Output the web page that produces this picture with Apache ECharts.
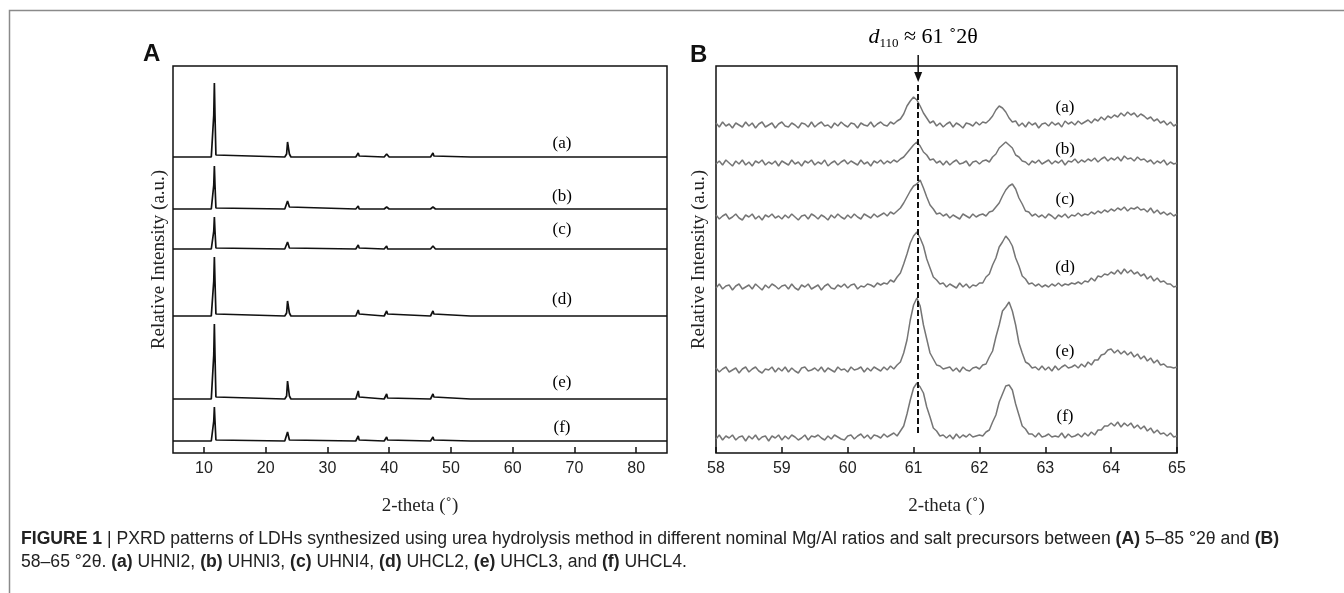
<!DOCTYPE html>
<html><head><meta charset="utf-8">
<script src="https://cdn.jsdelivr.net/npm/echarts@6/dist/echarts.min.js"></script>
<style>html,body{margin:0;padding:0;background:#fff}#c{width:1344px;height:593px}</style>
</head><body><div id="c"></div><script>
// ---------- Panel A : 5–85 °2θ ----------
const sampleNames = ['(a)', '(b)', '(c)', '(d)', '(e)', '(f)'];
const xA = [5,
  11.2, 11.45, 11.6, 11.7, 11.8, 11.95, 12.2,
  23.1, 23.4, 23.55, 23.7, 23.85, 24.1,
  34.6, 34.85, 35.0, 35.15, 35.4,
  39.2, 39.45, 39.6, 39.75, 40.0,
  46.7, 46.95, 47.1, 47.25, 47.5,
  53.2, 53.45, 53.7,
  56.6, 56.85, 57.1,
  60.7, 60.95, 61.2,
  62.1, 62.35, 62.6,
  85];
const intensA_a = [0, 0,2,42,74,42,2,0, 0,3,15,14,3,0, 0,1,4,1,0, 0,1,3,1,0, 0,1,4,1,0, 0,0,0, 0,0,0, 0,0,0, 0,0,0, 0];
const intensA_b = [0, 0,1,24,43,24,1,0, 0,2,8,9,2,0, 0,0,3,0,0, 0,0,2,0,0, 0,0,2,1,0, 0,0,0, 0,0,0, 0,0,0, 0,0,0, 0];
const intensA_c = [0, 0,1,18,32,18,1,0, 0,2,7,6,1,0, 0,1,4,1,0, 0,1,3,0,0, 0,1,3,1,0, 0,0,0, 0,0,0, 0,1,0, 0,0,0, 0];
const intensA_d = [0, 0,2,35,59,35,2,0, 0,3,15,16,3,0, 0,1,6,2,0, 0,1,5,2,0, 0,1,5,2,0, 0,1.5,0, 0,1.5,0, 0,2,0, 0,2,0, 0];
const intensA_e = [0, 0,2,44,75,44,2,0, 0,3,18,17,3,0, 0,1,8,2,0, 0,1,5,1,0, 0,1,5,2,0, 0,1,0, 0,0,0, 0,1,0, 0,1,0, 0];
const intensA_f = [0, 0,1,20,34,20,1,0, 0,2,9,8,1,0, 0,1,5,1,0, 0,1,4,1,0, 0,1,4,1,0, 0,0.5,0, 0,0,0, 0,1,0, 0,0.5,0, 0];
const offsetsA = [296, 244, 204, 137, 54, 12];
const xTicksA = [10, 20, 30, 40, 50, 60, 70, 80];

// ---------- Panel B : 58–65 °2θ (step 0.05) ----------
const xStartB = 58, xStepB = 0.05;
const intensB_a = [
  2,-2,3,-1,1,-3,2,0,-2,3,
  -1,2,-3,1,3,-2,0,2,-3,1,
  3,-1,-2,2,0,-3,2,1,-2,3,
  -2,1,3,-1,0,-3,2,-1,3,0,
  -2,2,1,-3,2,0,-1,3,-2,1,
  3,0,-1,3,1,4,6,11,19,24,
  28,25,19,12,7,2,4,-1,2,-2,
  1,3,-2,2,0,-3,2,1,-1,3,
  0,3,2,5,9,15,19,17,13,7,
  3,4,-1,2,-2,3,0,2,-3,1,
  2,-1,3,0,2,-2,4,1,3,0,
  4,1,3,5,2,6,4,8,5,9,
  7,10,8,12,9,13,10,12,8,11,
  9,6,8,4,6,2,4,0,3,-1,
  1];
const intensB_b = [
  -1,2,-2,3,0,-3,2,-1,3,-2,
  1,-3,2,0,3,-2,1,-1,2,-3,
  2,0,-2,3,-1,1,-3,2,0,3,
  -2,1,-1,3,-3,0,2,-2,1,3,
  -1,2,0,-2,3,-1,1,-3,2,0,
  3,-1,2,0,3,1,4,6,10,14,
  18,21,17,11,8,3,4,0,2,-2,
  2,-2,1,3,-1,0,2,-3,1,2,
  -1,2,3,1,6,9,15,18,21,18,
  15,8,6,2,1,-2,2,0,3,-1,
  1,3,-1,2,0,3,-2,2,1,4,
  0,3,1,4,2,5,1,4,6,2,
  5,3,6,2,7,4,5,2,6,3,
  4,1,3,-1,2,0,3,-2,1,-1,
  0];
const intensB_c = [
  2,-2,1,3,-2,0,3,-1,-3,2,
  0,3,-2,1,-3,2,0,3,-1,1,
  -2,2,-1,3,0,-3,1,2,-2,3,
  1,-2,2,0,-3,2,-1,3,0,-2,
  2,-1,3,0,-2,3,1,-1,3,0,
  2,4,1,5,3,6,9,14,20,26,
  31,33,37,29,20,12,8,3,4,1,
  3,-1,2,0,-2,3,1,-1,3,0,
  2,3,1,5,6,10,14,21,27,31,
  33,28,19,13,6,5,1,3,0,2,
  -1,3,1,-2,2,0,3,-1,2,1,
  4,1,3,2,5,3,6,4,7,5,
  8,6,9,7,10,6,9,8,10,7,
  8,5,9,4,7,3,5,2,4,1,
  3];
const intensB_d = [
  -1,3,-2,1,2,-3,1,3,-2,0,
  2,-2,3,0,-3,2,-1,3,1,-2,
  1,2,-2,3,-1,-3,2,0,3,-2,
  0,2,-3,1,3,-1,-2,2,0,3,
  -1,2,3,-2,1,0,3,2,0,4,
  2,4,3,7,5,10,14,23,33,44,
  51,55,49,41,28,19,10,7,3,4,
  0,3,1,-1,4,0,3,-1,2,1,
  4,4,10,13,22,29,40,45,51,47,
  41,29,21,11,8,3,4,1,3,0,
  2,0,3,1,4,1,3,2,4,3,
  5,3,6,5,9,6,11,10,13,12,
  15,13,17,13,18,14,17,13,15,11,
  13,8,11,6,9,5,6,3,3,0,
  1];
const intensB_e = [
  2,-2,1,3,-2,0,2,-3,1,3,
  -2,1,3,-1,-3,1,0,3,-2,2,
  -1,3,-2,2,-1,-3,2,3,-1,0,
  2,-1,3,-2,2,0,-2,3,0,1,
  -2,3,0,1,3,-2,2,-1,3,1,
  -1,3,0,4,1,5,8,17,30,50,
  65,72,64,45,31,17,11,5,4,1,
  2,3,-1,2,-2,3,0,-1,2,3,
  1,5,6,13,19,33,45,59,63,68,
  59,45,27,17,8,6,2,3,0,4,
  0,3,-1,4,0,3,5,2,3,5,
  2,6,3,8,5,10,10,15,16,20,
  21,17,20,16,19,15,18,13,16,11,
  14,9,12,7,10,5,6,3,3,2,
  3];
const intensB_f = [
  -1,3,-2,2,0,3,-2,1,2,-3,
  2,-1,3,-2,1,2,-3,2,0,3,
  -2,2,-1,3,1,-2,0,3,-2,2,
  1,3,0,-2,2,-1,3,1,-1,-2,
  2,3,-1,2,4,0,3,-1,3,2,
  0,4,1,3,5,2,7,12,24,38,
  50,55,51,45,31,21,10,7,2,3,
  0,3,-1,4,0,3,1,4,1,2,
  3,2,6,8,16,23,36,44,52,53,
  48,34,23,12,9,4,4,1,5,1,
  2,4,1,2,1,5,0,4,1,2,
  4,1,5,2,6,3,8,8,12,12,
  15,12,16,11,15,12,15,10,13,9,
  12,7,10,5,8,4,5,2,5,1,
  2];
const offsetsB = [328, 290, 236, 166, 83, 15];
const xTicksB = [58, 59, 60, 61, 62, 63, 64, 65];
const d110Pos = 61.07;

// ---------- build ----------
const intensA = [intensA_a, intensA_b, intensA_c, intensA_d, intensA_e, intensA_f];
const intensB = [intensB_a, intensB_b, intensB_c, intensB_d, intensB_e, intensB_f];
const labelXA = 68, labelDyA = [13, 12, 19, 16, 16, 13];
const labelXB = 63.3, labelDyB = [17, 13, 17, 19, 18, 21];

const chart = echarts.init(document.getElementById('c'), null, {renderer: 'canvas'});
const serif = '"Liberation Serif", "DejaVu Serif", serif';
const sans = '"Liberation Sans", Arial, sans-serif';

function xAxisCfg(gi, min, max, ticks) {
  return {
    gridIndex: gi, type: 'value', min: min, max: max,
    axisLine: {show: false},
    axisTick: {show: true, inside: true, length: 6, customValues: ticks, lineStyle: {color: '#111', width: 1.5}},
    axisLabel: {show: true, customValues: ticks, fontFamily: sans, fontSize: 16, color: '#222', margin: 8},
    splitLine: {show: false},
    name: '2-theta (˚)', nameLocation: 'middle', nameGap: 44,
    nameTextStyle: {fontFamily: serif, fontSize: 19, color: '#222'}
  };
}
function yAxisCfg(gi, gap) {
  return {
    gridIndex: gi, type: 'value', min: 0, max: 387,
    axisLine: {show: false}, axisTick: {show: false}, axisLabel: {show: false}, splitLine: {show: false},
    name: 'Relative Intensity (a.u.)', nameLocation: 'middle', nameGap: gap,
    nameTextStyle: {fontFamily: serif, fontSize: 19, color: '#222'}
  };
}

const series = [];
intensA.forEach((arr, i) => {
  series.push({
    type: 'line', xAxisIndex: 0, yAxisIndex: 0, name: sampleNames[i],
    data: xA.map((x, k) => [x, arr[k] + offsetsA[i]]),
    showSymbol: false, symbol: 'none', animation: false,
    lineStyle: {color: '#111', width: 1.7}
  });
});
intensB.forEach((arr, i) => {
  const s = {
    type: 'line', xAxisIndex: 1, yAxisIndex: 1, name: sampleNames[i] + 'B',
    data: arr.map((v, k) => [+(xStartB + k * xStepB).toFixed(2), v + offsetsB[i]]),
    showSymbol: false, symbol: 'none', animation: false,
    lineStyle: {color: '#757575', width: 1.5}
  };
  if (i === 5) {
    s.markLine = {
      silent: true, symbol: 'none', animation: false,
      label: {show: false},
      lineStyle: {type: [6, 3], color: '#111', width: 2},
      data: [[{coord: [d110Pos, 20]}, {coord: [d110Pos, 371]}]]
    };
  }
  series.push(s);
});
// sample labels
const labelStyle = {show: true, position: 'inside', formatter: '{b}', fontFamily: serif, fontSize: 17,
  color: '#000', textBorderWidth: 0, textBorderColor: 'transparent', opacity: 1};
series.push({
  type: 'scatter', xAxisIndex: 0, yAxisIndex: 0, symbolSize: 1, itemStyle: {color: 'rgba(255,255,255,0)'}, animation: false, silent: true,
  data: sampleNames.map((n, i) => ({name: n, value: [labelXA, offsetsA[i] + labelDyA[i]]})),
  label: labelStyle
});
series.push({
  type: 'scatter', xAxisIndex: 1, yAxisIndex: 1, symbolSize: 1, itemStyle: {color: 'rgba(255,255,255,0)'}, animation: false, silent: true,
  data: sampleNames.map((n, i) => ({name: n, value: [labelXB, offsetsB[i] + labelDyB[i]]})),
  label: labelStyle
});

const gridBase = {show: true, borderColor: '#111', borderWidth: 1.5, backgroundColor: 'transparent', containLabel: false};
chart.setOption({
  animation: false,
  backgroundColor: '#fff',
  grid: [
    Object.assign({left: 173, top: 66, width: 494, height: 387}, gridBase),
    Object.assign({left: 716, top: 66, width: 461, height: 387}, gridBase)
  ],
  xAxis: [xAxisCfg(0, 5, 85, xTicksA), xAxisCfg(1, 58, 65, xTicksB)],
  yAxis: [yAxisCfg(0, 4), yAxisCfg(1, 7)],
  series: series
});

// annotations placed via the chart's own coordinate conversion
const pTip = chart.convertToPixel({gridIndex: 1}, [d110Pos, 371]);
const capRich = {b: {fontWeight: 'bold', fontFamily: sans, fontSize: 17.6, color: '#222'}};
chart.setOption({
  graphic: [
    {type: 'polyline', shape: {points: [[9.5, 593], [9.5, 10.5], [1344, 10.5]]}, style: {stroke: '#8a8a8a', lineWidth: 1.5, fill: null}, silent: true},
    {type: 'text', left: 143, top: 42, style: {text: 'A', font: 'bold 24px ' + sans, fill: '#111'}},
    {type: 'text', left: 690, top: 43, style: {text: 'B', font: 'bold 24px ' + sans, fill: '#111'}},
    {type: 'line', shape: {x1: pTip[0], y1: 55, x2: pTip[0], y2: pTip[1] - 8}, style: {stroke: '#111', lineWidth: 1.5}},
    {type: 'polygon', shape: {points: [[pTip[0] - 4, pTip[1] - 10], [pTip[0] + 4, pTip[1] - 10], [pTip[0], pTip[1]]]}, style: {fill: '#111'}},
    {type: 'text', x: pTip[0] + 5, y: 37, style: {
      text: '{i|d}{sub|110}{n| ≈ 61 ˚2θ}', align: 'center', verticalAlign: 'middle',
      rich: {
        i: {fontFamily: serif, fontStyle: 'italic', fontSize: 22, color: '#111'},
        sub: {fontFamily: serif, fontSize: 13, color: '#111', padding: [14, 0, 0, 0]},
        n: {fontFamily: serif, fontSize: 22, color: '#111'}
      }
    }},
    {type: 'text', left: 21, top: 530, style: {
      text: '{b|FIGURE 1} | PXRD patterns of LDHs synthesized using urea hydrolysis method in different nominal Mg/Al ratios and salt precursors between {b|(A)} 5–85 °2θ and {b|(B)}',
      font: '17.6px ' + sans, fill: '#222', rich: capRich
    }},
    {type: 'text', left: 21, top: 553, style: {
      text: '58–65 °2θ. {b|(a)} UHNI2, {b|(b)} UHNI3, {b|(c)} UHNI4, {b|(d)} UHCL2, {b|(e)} UHCL3, and {b|(f)} UHCL4.',
      font: '17.6px ' + sans, fill: '#222', rich: capRich
    }}
  ]
});
</script></body></html>
